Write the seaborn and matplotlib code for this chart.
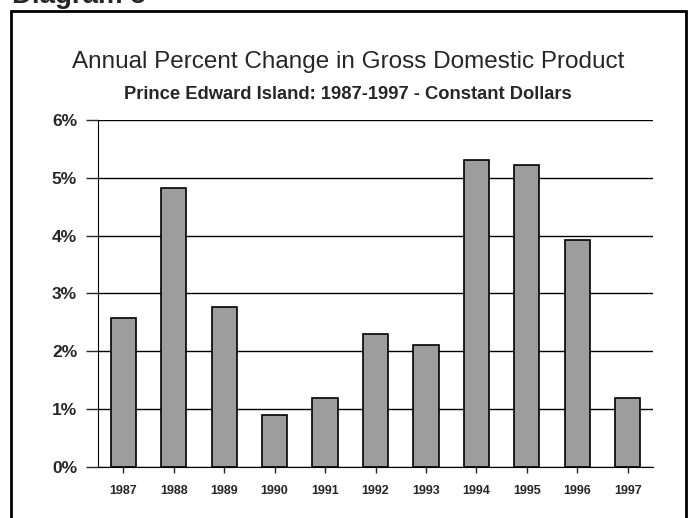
import pandas as pd
import matplotlib.pyplot as plt
import seaborn as sns
from matplotlib.patches import Rectangle

# Data
years = ["1987", "1988", "1989", "1990", "1991", "1992",
         "1993", "1994", "1995", "1996", "1997"]
pct_change = [2.58, 4.83, 2.77, 0.90, 1.19, 2.30,
              2.11, 5.31, 5.22, 3.93, 1.19]
y_ticks = [0, 1, 2, 3, 4, 5, 6]
y_tick_labels = ["0%", "1%", "2%", "3%", "4%", "5%", "6%"]

df = pd.DataFrame({"Year": years, "Change": pct_change})

sns.set_style("white")
plt.rcParams["font.family"] = ["Liberation Sans", "DejaVu Sans"]

fig = plt.figure(figsize=(6.89, 5.18), dpi=100)
ax = fig.add_axes([0.1422, 0.0985, 0.8056, 0.6698])

sns.barplot(
    data=df,
    x="Year",
    y="Change",
    color="#9d9d9d",
    saturation=1,
    width=0.5,
    edgecolor="black",
    linewidth=1.2,
    ax=ax
)

ax.set_ylim(0, 6)
ax.set_xlim(-0.5, len(years) - 0.5)
ax.set_yticks(y_ticks)
ax.set_yticklabels(y_tick_labels, fontsize=12.5, fontweight="bold")
ax.set_xticks(range(len(years)))
ax.set_xticklabels(years, fontsize=9, fontweight="bold")
ax.set_xlabel("")
ax.set_ylabel("")

ax.grid(axis="y", color="black", linewidth=1)
ax.set_axisbelow(True)
for side in ["top", "right"]:
    ax.spines[side].set_visible(False)
ax.spines["left"].set_color("black")
ax.spines["bottom"].set_color("black")
ax.tick_params(axis="y", direction="out", length=9, width=1, pad=6, left=True)
ax.tick_params(axis="x", direction="out", length=4, width=1, pad=9, bottom=True)

# titles
fig.text(0.505, 0.881, "Annual Percent Change in Gross Domestic Product",
         ha="center", va="center", fontsize=17.5)
fig.text(0.505, 0.818, "Prince Edward Island: 1987-1997 - Constant Dollars",
         ha="center", va="center", fontsize=13.2, fontweight="bold")

# page header cut off at the top, as in the scan
fig.text(12 / 689, 1 - 3 / 518, "Diagram 5", ha="left", va="baseline",
         fontsize=20, fontweight="bold")

# surrounding frame
fig.patches.append(Rectangle((11 / 689, -0.05), 675 / 689, 1.05 - 11 / 518,
                             transform=fig.transFigure, fill=False,
                             edgecolor="black", linewidth=2))

plt.savefig("out.png", dpi=100)
plt.close()
